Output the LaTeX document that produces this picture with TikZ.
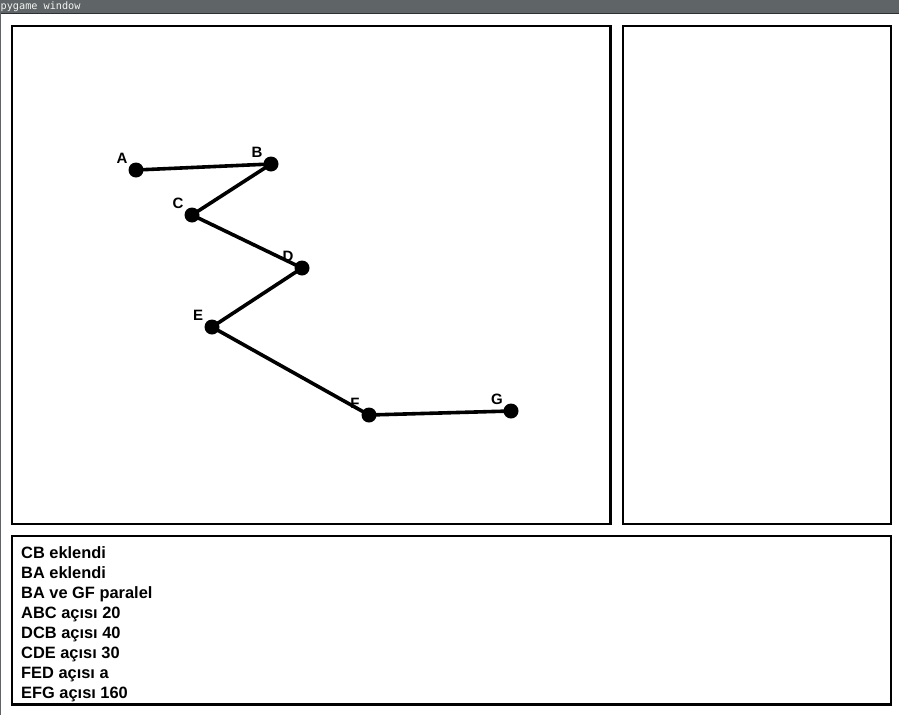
\documentclass[tikz,border=0pt]{standalone}
\usepackage{fontspec}
\setmainfont{Liberation Sans}
\newfontfamily\pencerefont{DejaVu Sans Mono}
\definecolor{barcolor}{HTML}{5F6566}
\definecolor{barline}{HTML}{2D3032}
\definecolor{bartext}{HTML}{F4F4F4}

\tikzset{
  panel/.style={draw=black, line width=2.2pt},
  nokta/.style={circle, fill=black, inner sep=0pt, minimum size=15pt},
  kenar/.style={line width=3.6pt, black},
  etiket/.style={font=\fontsize{15}{15}\selectfont\bfseries, inner sep=0pt},
  satir/.style={font=\fontsize{16.4}{20}\selectfont\bfseries, anchor=base west, inner sep=0pt}
}

\begin{document}
\begin{tikzpicture}[x=1pt, y=-1pt]

  \useasboundingbox (0,0) rectangle (899,715);

  % pencere basligi
  \fill[barcolor] (0,0) rectangle (899,13);
  \draw[barline, line width=1pt] (0,13) -- (899,13);
  \fill[barcolor] (0,13) rectangle (1.2,715);
  \node[font=\pencerefont\fontsize{10.2}{10}\selectfont, text=bartext, anchor=base west, inner sep=0pt] (baslik) at (0.5,9.5) {pygame window};

  % paneller
  \draw[panel] (12,26) rectangle (610.5,524);
  \draw[panel] (623,26) rectangle (891,524);
  \draw[panel] (12,536) rectangle (891,704.5);

  % noktalar ve etiketler
  \foreach \ad/\x/\y in {A/136/170, B/271/164, C/192/215, D/302/268, E/212/327, F/369/415, G/511/411}
  {
    \node[etiket] (\ad-et) at (\x-14,\y-11.5) {\ad};
    \coordinate (\ad) at (\x,\y);
  }

  \draw[kenar] (A) -- (B) -- (C) -- (D) -- (E) -- (F) -- (G);

  \foreach \ad in {A,B,C,D,E,F,G}
    \node[nokta] (\ad-n) at (\ad) {};

  % mesajlar
  \foreach \metin [count=\i] in {CB eklendi, BA eklendi, BA ve GF paralel, ABC açısı 20,
                                 DCB açısı 40, CDE açısı 30, FED açısı a, EFG açısı 160}
    \node[satir] (m\i) at (21,538+20*\i) {\metin};

\end{tikzpicture}
\end{document}
